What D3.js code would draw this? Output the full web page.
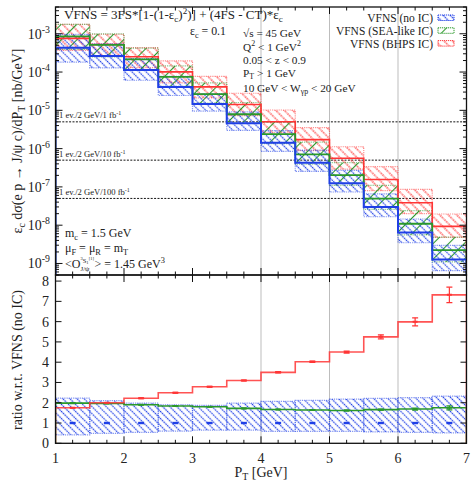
<!DOCTYPE html>
<html><head><meta charset="utf-8">
<script src="https://cdn.jsdelivr.net/npm/d3@7"></script>
<style>
body{margin:0;background:#fff}
svg{display:block}
text{font-family:"Liberation Serif","DejaVu Serif",serif;fill:#222}
</style>
</head><body>
<svg id="chart" width="472" height="483"></svg>
<script>
// P_T bins [GeV]
const binEdges = [1, 1.5, 2, 2.5, 3, 3.5, 4, 4.5, 5, 5.5, 6, 6.5, 7];

// eps_c dsigma/dP_T [nb/GeV] : central value and scale-uncertainty band
const noIC   = [4.33e-4, 2.62e-4, 1.13e-4, 4.07e-5, 1.47e-5, 4.59e-6, 1.43e-6, 4.29e-7, 1.25e-7, 2.97e-8, 6.45e-9, 1.27e-9];
const noICUp = [9.66e-4, 5.50e-4, 2.24e-4, 7.73e-5, 2.75e-5, 9.09e-6, 2.96e-6, 9.09e-7, 2.71e-7, 6.59e-8, 1.45e-8, 2.96e-9];
const noICLo = [1.82e-4, 1.28e-4, 6.10e-5, 2.44e-5, 9.56e-6, 2.98e-6, 8.44e-7, 2.53e-7, 7.35e-8, 1.66e-8, 3.48e-9, 6.48e-10];

const sea   = [8.57e-4, 5.14e-4, 2.15e-4, 7.49e-5, 2.65e-5, 7.89e-6, 2.39e-6, 7.04e-7, 2.02e-7, 4.93e-8, 1.09e-8, 2.22e-9];
const seaUp = [1.75e-3, 9.9e-4, 4.2e-4, 1.45e-4, 5.2e-5, 1.6e-5, 4.9e-6, 1.48e-6, 4.3e-7, 1.1e-7, 2.4e-8, 4.9e-9];
const seaLo = [3.9e-4, 2.5e-4, 1.12e-4, 4.2e-5, 1.55e-5, 4.6e-6, 1.35e-6, 3.9e-7, 1.1e-7, 2.6e-8, 5.6e-9, 1.1e-9];

const bhps   = [7.58e-4, 5.24e-4, 2.51e-4, 1.01e-4, 4.10e-5, 1.42e-5, 5.01e-6, 1.72e-6, 5.60e-7, 1.56e-7, 3.86e-8, 9.30e-9];
const bhpsUp = [1.77e-3, 9.7e-4, 4.33e-4, 1.95e-4, 7.7e-5, 2.79e-5, 1.02e-5, 3.52e-6, 1.12e-6, 3.37e-7, 8.67e-8, 1.96e-8];
const bhpsLo = [3.7e-4, 2.7e-4, 1.3e-4, 5.2e-5, 2.1e-5, 7.3e-6, 2.6e-6, 8.9e-7, 2.9e-7, 8.0e-8, 2.0e-8, 4.8e-9];

// ratio w.r.t. VFNS (no IC)
const ratioNoICUp  = [2.23, 2.10, 1.98, 1.90, 1.87, 1.98, 2.07, 2.12, 2.18, 2.22, 2.25, 2.33];
const ratioNoICLo  = [0.42, 0.49, 0.54, 0.60, 0.65, 0.65, 0.59, 0.59, 0.59, 0.56, 0.54, 0.51];
const ratioSea     = [1.98, 1.96, 1.90, 1.84, 1.80, 1.72, 1.67, 1.64, 1.62, 1.66, 1.69, 1.75];
const ratioSeaErr  = [0.01, 0.01, 0.01, 0.01, 0.01, 0.01, 0.01, 0.02, 0.02, 0.03, 0.05, 0.10];
const ratioBhps    = [1.75, 2.00, 2.22, 2.49, 2.79, 3.10, 3.50, 4.02, 4.50, 5.25, 5.99, 7.32];
const ratioBhpsErr = [0.01, 0.01, 0.02, 0.02, 0.02, 0.02, 0.03, 0.03, 0.05, 0.10, 0.20, 0.38];

// axes
const xTicks = [1, 2, 3, 4, 5, 6, 7];
const xGrid = [4, 5, 6];
const yTopExponents = [-9, -8, -7, -6, -5, -4, -3];
const yRatioTicks = [0, 1, 2, 3, 4, 5, 6, 7, 8];

// "1 event per 2 GeV bin" reference levels
const lumiLevels = [5e-6, 5e-7, 5e-8];
const lumiNames  = ["1", "10", "100"];

const seriesNames = ["VFNS (no IC)", "VFNS (SEA-like IC)", "VFNS (BHPS IC)"];
const colors = {blue: "#1f3fe6", green: "#2a982a", red: "#ff3535"};

const svg = d3.select("#chart");
const L = 55.5, R = 466.5, T1 = 7, B1 = 275, T2 = 275, B2 = 443.3;

const x = d3.scaleLinear().domain([1, 7]).range([L, R]);
const yTop = d3.scaleLog().domain([5e-10, 5e-3]).range([B1, T1]);
const yRat = d3.scaleLinear().domain([0, 8.3]).range([B2, T2]);

// hatch patterns
const defs = svg.append("defs");
function hatch(id, color, spacing, angle, width, dash) {
  const p = defs.append("pattern").attr("id", id).attr("patternUnits", "userSpaceOnUse")
    .attr("width", spacing).attr("height", spacing)
    .attr("patternTransform", `rotate(${angle})`);
  p.append("line").attr("x1", spacing / 2).attr("y1", -1).attr("x2", spacing / 2).attr("y2", spacing + 1)
    .attr("stroke", color).attr("stroke-width", width).attr("stroke-dasharray", dash);
}
hatch("hBlue", colors.blue, 5, -45, 1.3, "1.6,0.8");
hatch("hGreen", colors.green, 11, 45, 1.1, null);
hatch("hRed", colors.red, 6, -45, 1.3, "1.6,0.8");

defs.append("clipPath").attr("id", "clipTop").append("rect").attr("x", L).attr("y", T1).attr("width", R - L).attr("height", B1 - T1);
defs.append("clipPath").attr("id", "clipRat").append("rect").attr("x", L).attr("y", T2).attr("width", R - L).attr("height", B2 - T2);

// rich text helper: parts = [[text, kind]], kind in "", "sup", "sub"
function rich(sel, parts, size) {
  parts.forEach(([t, k]) => {
    const ts = sel.append("tspan").text(t);
    if (k === "sup") ts.attr("font-size", size * 0.7).attr("baseline-shift", size * 0.4);
    if (k === "sub") ts.attr("font-size", size * 0.7).attr("baseline-shift", -size * 0.22);
  });
  return sel;
}

// grid lines
[[T1, B1], [T2, B2]].forEach(([t, b]) => {
  svg.append("g").selectAll("line").data(xGrid).join("line")
    .attr("x1", d => x(d)).attr("x2", d => x(d)).attr("y1", t).attr("y2", b)
    .attr("stroke", "#bdbdbd").attr("stroke-width", 1);
});

// ---------- top panel ----------
const gTop = svg.append("g").attr("clip-path", "url(#clipTop)");
const bins = d3.range(binEdges.length - 1);

// luminosity reference lines
lumiLevels.forEach(v => {
  gTop.append("line").attr("x1", L).attr("x2", R).attr("y1", yTop(v)).attr("y2", yTop(v))
    .attr("stroke", "#111").attr("stroke-width", 1).attr("stroke-dasharray", "2,1.4");
});

function bands(g, lo, up, fill, stroke, yS) {
  g.append("g").selectAll("rect").data(bins).join("rect")
    .attr("x", i => x(binEdges[i])).attr("width", i => x(binEdges[i + 1]) - x(binEdges[i]))
    .attr("y", i => yS(up[i])).attr("height", i => yS(lo[i]) - yS(up[i]))
    .attr("fill", fill).attr("stroke", stroke).attr("stroke-opacity", 0.55)
    .attr("stroke-width", 1.2).attr("stroke-dasharray", "1.2,1");
}
function stepPath(vals, yS, base) {
  const p = d3.path();
  p.moveTo(x(binEdges[0]), base);
  vals.forEach((v, i) => { p.lineTo(x(binEdges[i]), yS(v)); p.lineTo(x(binEdges[i + 1]), yS(v)); });
  p.lineTo(x(binEdges[binEdges.length - 1]), base);
  return p.toString();
}

bands(gTop, bhpsLo, bhpsUp, "url(#hRed)", colors.red, yTop);
bands(gTop, seaLo, seaUp, "url(#hGreen)", colors.green, yTop);
bands(gTop, noICLo, noICUp, "url(#hBlue)", colors.blue, yTop);
gTop.append("path").attr("d", stepPath(bhps, yTop, B1 + 2)).attr("fill", "none").attr("stroke", colors.red).attr("stroke-width", 1.6);
gTop.append("path").attr("d", stepPath(sea, yTop, B1 + 2)).attr("fill", "none").attr("stroke", colors.green).attr("stroke-width", 1.8);
gTop.append("path").attr("d", stepPath(noIC, yTop, B1 + 2)).attr("fill", "none").attr("stroke", colors.blue).attr("stroke-width", 2);

// ---------- ratio panel ----------
const gRat = svg.append("g").attr("clip-path", "url(#clipRat)");
bands(gRat, ratioNoICLo, ratioNoICUp, "url(#hBlue)", colors.blue, yRat);
gRat.append("path").attr("d", stepPath(ratioSea, yRat, B2 + 2)).attr("fill", "none").attr("stroke", colors.green).attr("stroke-width", 1.6);
gRat.append("path").attr("d", stepPath(ratioBhps, yRat, B2 + 2)).attr("fill", "none").attr("stroke", colors.red).attr("stroke-width", 1.6).attr("stroke-opacity", 0.85);

const centers = bins.map(i => (binEdges[i] + binEdges[i + 1]) / 2);
// no-IC reference points at 1
gRat.append("g").selectAll("rect").data(bins).join("rect")
  .attr("x", i => x(centers[i]) - 3).attr("width", 6)
  .attr("y", yRat(1) - 1.2).attr("height", 2.4).attr("fill", colors.blue);
function errBars(vals, errs, color) {
  const g = gRat.append("g").attr("stroke", color).attr("stroke-width", 1.2);
  bins.forEach(i => {
    const cx = x(centers[i]);
    const y0 = yRat(vals[i] - errs[i]), y1 = yRat(vals[i] + errs[i]);
    g.append("line").attr("x1", cx).attr("x2", cx).attr("y1", y0).attr("y2", y1);
    g.append("line").attr("x1", cx - 3).attr("x2", cx + 3).attr("y1", y0).attr("y2", y0);
    g.append("line").attr("x1", cx - 3).attr("x2", cx + 3).attr("y1", y1).attr("y2", y1);
    g.append("line").attr("x1", cx - 2.5).attr("x2", cx + 2.5).attr("y1", yRat(vals[i])).attr("y2", yRat(vals[i])).attr("stroke-width", 2);
  });
}
errBars(ratioSea, ratioSeaErr, colors.green);
errBars(ratioBhps, ratioBhpsErr, colors.red);

// ---------- frames and ticks ----------
const frame = svg.append("g").attr("fill", "none").attr("stroke", "#111").attr("stroke-width", 1.3);
frame.append("rect").attr("x", L).attr("y", T1).attr("width", R - L).attr("height", B1 - T1);
frame.append("rect").attr("x", L).attr("y", T2).attr("width", R - L).attr("height", B2 - T2);

const xMinor = d3.range(1, 7.001, 0.25).filter(v => Math.abs(v - Math.round(v)) > 1e-6);
function xTickSet(yEdge, dir) {
  const g = svg.append("g").attr("stroke", "#111").attr("stroke-width", 1);
  xTicks.forEach(v => g.append("line").attr("x1", x(v)).attr("x2", x(v)).attr("y1", yEdge).attr("y2", yEdge + dir * 7));
  xMinor.forEach(v => g.append("line").attr("x1", x(v)).attr("x2", x(v)).attr("y1", yEdge).attr("y2", yEdge + dir * 3.5));
}
xTickSet(T1, 1); xTickSet(B1, -1); xTickSet(T2, 1); xTickSet(B2, -1);

// log ticks on the top panel, mirrored on both sides
const majorVals = yTopExponents.map(e => Math.pow(10, e));
const minorVals = [];
for (let e = -10; e <= -3; e++) for (let k = 2; k <= 9; k++) {
  const v = k * Math.pow(10, e);
  if (v >= 5e-10 && v <= 5e-3) minorVals.push(v);
}
function logTicks(xEdge, dir) {
  const g = svg.append("g").attr("stroke", "#111").attr("stroke-width", 1);
  majorVals.forEach(v => g.append("line").attr("x1", xEdge).attr("x2", xEdge + dir * 7).attr("y1", yTop(v)).attr("y2", yTop(v)));
  minorVals.forEach(v => g.append("line").attr("x1", xEdge).attr("x2", xEdge + dir * 3.5).attr("y1", yTop(v)).attr("y2", yTop(v)));
}
logTicks(L, 1); logTicks(R, -1);
function ratTicks(xEdge, dir) {
  const g = svg.append("g").attr("stroke", "#111").attr("stroke-width", 1);
  yRatioTicks.forEach(v => g.append("line").attr("x1", xEdge).attr("x2", xEdge + dir * 6).attr("y1", yRat(v)).attr("y2", yRat(v)));
}
ratTicks(L, 1); ratTicks(R, -1);

// luminosity labels (on top of the ticks)
lumiLevels.forEach((v, i) => {
  const t = svg.append("text").attr("x", L + 3.5).attr("y", yTop(v) - 3.5).attr("font-size", 8.6);
  rich(t, [["1 ev./2 GeV/" + lumiNames[i] + " fb", ""], ["-1", "sup"]], 8.6);
});

// tick labels
const fs = 14;
yTopExponents.forEach(e => {
  const t = svg.append("text").attr("x", 50).attr("y", yTop(Math.pow(10, e)) + 5).attr("text-anchor", "end").attr("font-size", fs);
  rich(t, [["10", ""], [String(e), "sup"]], fs);
});
svg.append("g").selectAll("text").data(yRatioTicks).join("text")
  .attr("x", 49).attr("y", d => yRat(d) + 5).attr("text-anchor", "end").attr("font-size", fs).text(d => d);
svg.append("g").selectAll("text").data(xTicks).join("text")
  .attr("x", d => x(d)).attr("y", 463).attr("text-anchor", "middle").attr("font-size", fs).text(d => d);

// axis titles
rich(svg.append("text").attr("x", x(4)).attr("y", 477).attr("text-anchor", "middle").attr("font-size", fs),
  [["P", ""], ["T", "sub"], [" [GeV]", ""]], fs);
rich(svg.append("text").attr("transform", "translate(22,141) rotate(-90)").attr("text-anchor", "middle").attr("font-size", fs),
  [["ε", ""], ["c", "sub"], [" dσ(e p → J/ψ c)/dP", ""], ["T", "sub"], [" [nb/GeV]", ""]], fs);
svg.append("text").attr("transform", "translate(22,360) rotate(-90)").attr("text-anchor", "middle").attr("font-size", fs)
  .text("ratio w.r.t. VFNS (no IC)");

// annotations
const fa = 13, fi = 11.3;
rich(svg.append("text").attr("x", 64).attr("y", 19).attr("font-size", fa),
  [["VFNS = 3FS*[1-(1-ε", ""], ["c", "sub"], [")", ""], ["2", "sup"], [")] + (4FS - CT)*ε", ""], ["c", "sub"]], fa);
rich(svg.append("text").attr("x", 190).attr("y", 35).attr("font-size", 11.8), [["ε", ""], ["c", "sub"], [" = 0.1", ""]], 11.8);
const info = [
  [["√s = 45 GeV", ""]],
  [["Q", ""], ["2", "sup"], [" < 1 GeV", ""], ["2", "sup"]],
  [["0.05 < z < 0.9", ""]],
  [["P", ""], ["T", "sub"], [" > 1 GeV", ""]],
  [["10 GeV < W", ""], ["γp", "sub"], [" < 20 GeV", ""]]
];
const infoY = [37, 51, 64, 77, 91.5];
info.forEach((parts, i) => rich(svg.append("text").attr("x", 243).attr("y", infoY[i]).attr("font-size", fi), parts, fi));

rich(svg.append("text").attr("x", 65).attr("y", 237).attr("font-size", 12), [["m", ""], ["c", "sub"], [" = 1.5 GeV", ""]], 12);
rich(svg.append("text").attr("x", 65).attr("y", 252).attr("font-size", 12),
  [["μ", ""], ["F", "sub"], [" = μ", ""], ["R", "sub"], [" = m", ""], ["T", "sub"]], 12);
// <O^{3S1[1]}_{J/psi}> with stacked super/subscript
{
  const y0 = 268;
  const a = svg.append("text").attr("x", 65).attr("y", y0).attr("font-size", 12).text("<O");
  const w = a.node().getComputedTextLength();
  const sp = svg.append("text").attr("x", 65 + w).attr("y", y0 - 5).attr("font-size", 6.5);
  rich(sp, [["3", "sup"], ["S", ""], ["1", "sub"], ["[1]", "sup"]], 6.5);
  const sb = svg.append("text").attr("x", 65 + w).attr("y", y0 + 3).attr("font-size", 7).text("J/ψ");
  const w2 = Math.max(sp.node().getComputedTextLength(), sb.node().getComputedTextLength());
  rich(svg.append("text").attr("x", 65 + w + w2 + 0.5).attr("y", y0).attr("font-size", 12),
    [["> = 1.45 GeV", ""], ["3", "sup"]], 12);
}

// legend
const legFills = ["url(#hBlue)", "url(#hGreen)", "url(#hRed)"];
const legColors = [colors.blue, colors.green, colors.red];
const fl = 11.5;
seriesNames.forEach((name, i) => {
  const yy = 22 + i * 12.8;
  svg.append("text").attr("x", 433).attr("y", yy).attr("text-anchor", "end").attr("font-size", fl).text(name);
  svg.append("rect").attr("x", 438).attr("y", yy - 7).attr("width", 16).attr("height", 5.5)
    .attr("fill", legFills[i]).attr("stroke", legColors[i]).attr("stroke-width", 1).attr("stroke-dasharray", "1.2,0.8");
});
</script>
</body></html>
